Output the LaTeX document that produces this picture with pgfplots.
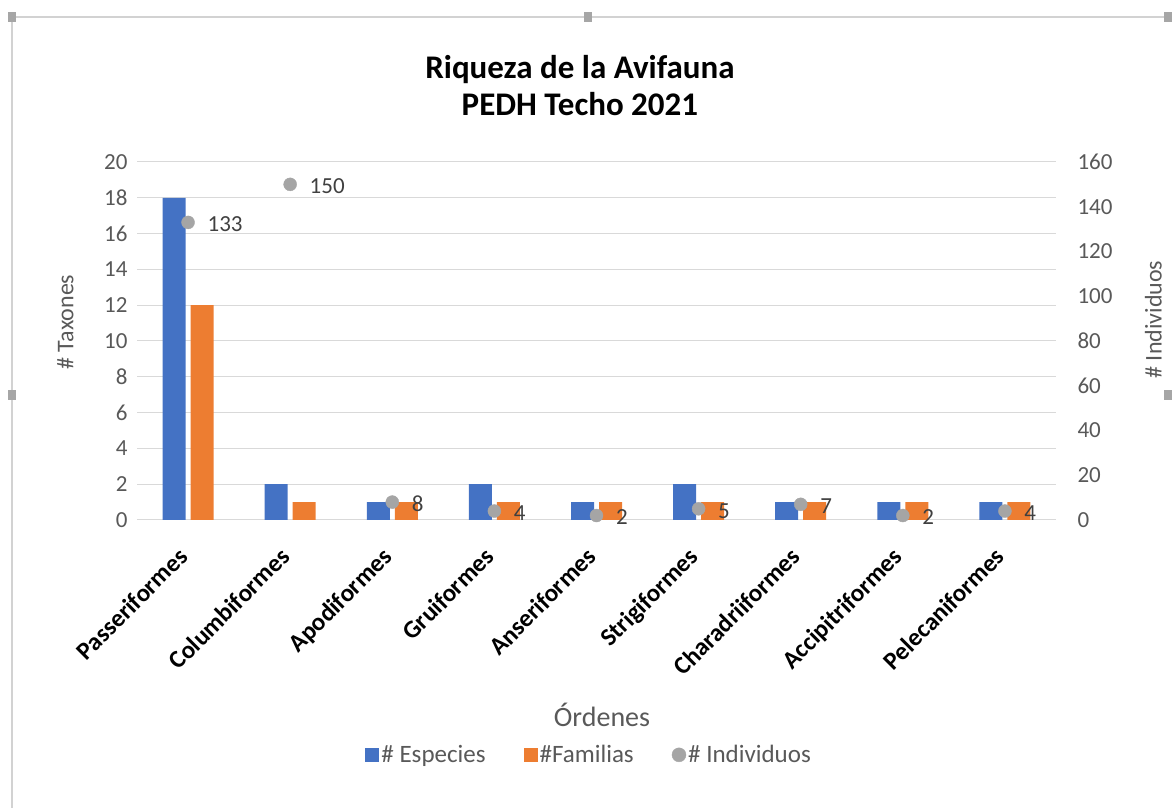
\documentclass[border=0pt]{standalone}
\usepackage{pgfplots}
\pgfplotsset{compat=1.18}
\usepackage{pgfplotstable}
\usepackage{fontspec}
\setmainfont{Carlito}

\definecolor{cBlue}{HTML}{4472C4}
\definecolor{cOrange}{HTML}{ED7D31}
\definecolor{cGray}{HTML}{A5A5A5}
\definecolor{cGrid}{HTML}{D9D9D9}
\definecolor{cText}{HTML}{595959}
\definecolor{cLabel}{HTML}{404040}

% idx = orden, esp = # especies, fam = # familias, ind = # individuos
\pgfplotstableread{
idx esp fam ind
0   18  12  133
1   2   1   150
2   1   1   8
3   2   1   4
4   1   1   2
5   2   1   5
6   1   1   7
7   1   1   2
8   1   1   4
}\avifauna

\newcommand\tickfont{\fontsize{23}{27}\selectfont}

\pgfplotsset{
  common/.style={
    at={(137pt,288pt)}, anchor=south west,
    scale only axis, width=919pt, height=358pt,
    xmin=-0.5, xmax=8.5,
    axis line style={draw=none},
    major tick length=0pt,
    /pgf/number format/assume math mode=true,
    tick label style={font=\tickfont, color=cText},
  },
}

\begin{document}
\begin{tikzpicture}
\path[use as bounding box] (0pt,0pt) rectangle (1173pt,808pt);
% chart frame
\draw[gray!35, line width=1.5pt] (12pt,791pt) -- (1168pt,791pt);
\draw[gray!35, line width=1.5pt] (12pt,791pt) -- (12pt,0pt);
\foreach \hx/\hy in {12/791, 588/791, 1168/791, 12/413, 1168/413}
  \fill[gray!70] (\hx pt-4pt,\hy pt-5pt) rectangle (\hx pt+4pt,\hy pt+5pt);

\begin{axis}[common,
  ymin=0, ymax=20, ytick distance=2,
  ymajorgrids, grid style={cGrid, line width=1pt},
  xtick=data,
  xticklabels={Passeriformes,Columbiformes,Apodiformes,Gruiformes,Anseriformes,Strigiformes,Charadriiformes,Accipitriformes,Pelecaniformes},
  xticklabel style={rotate=45, anchor=north east, font=\fontsize{25}{28}\selectfont\bfseries, color=black, xshift=-23pt, yshift=-7pt},
  yticklabel style={anchor=east, xshift=-6pt},
  title={Riqueza de la Avifauna\\PEDH Techo 2021},
  title style={at={(axis description cs:0.482,1.196)}, anchor=center, align=center,
    font=\fontsize{33}{37}\selectfont\bfseries},
  xlabel={Órdenes},
  xlabel style={at={(axis description cs:0.506,-0.545)}, anchor=center,
    font=\fontsize{28}{32}\selectfont, color=cText},
  ylabel={\# Taxones},
  ylabel style={at={(axis description cs:-0.078,0.553)}, anchor=center, rotate=0,
    font=\fontsize{24}{28}\selectfont, color=cText},
  legend columns=3,
  legend style={at={(axis description cs:0.492,-0.656)}, anchor=center, draw=none,
    font=\fontsize{25}{29}\selectfont, text=cText,
    /tikz/every even column/.append style={column sep=36pt}},
  legend cell align=left,
]
\addplot[ybar, bar width=23pt, bar shift=-14pt, fill=cBlue, draw=none,
  legend image code/.code={\fill[cBlue] (0pt,-7pt) rectangle (14pt,7pt);}]
  table[x=idx, y=esp] {\avifauna};
\addlegendentry{\# Especies}
\addplot[ybar, bar width=23pt, bar shift=14pt, fill=cOrange, draw=none,
  legend image code/.code={\fill[cOrange] (0pt,-7pt) rectangle (14pt,7pt);}]
  table[x=idx, y=fam] {\avifauna};
\addlegendentry{\#Familias}
\addlegendimage{legend image code/.code={\fill[cGray] (7pt,0pt) circle (7pt);}}
\addlegendentry{\# Individuos}
\end{axis}

\begin{axis}[common,
  ymin=0, ymax=160, ytick distance=20,
  axis y line*=right, hide x axis,
  yticklabel style={anchor=west, xshift=18pt},
  ylabel={\# Individuos},
  ylabel style={at={(axis description cs:1.106,0.56)}, anchor=center, rotate=0,
    font=\fontsize{24}{28}\selectfont, color=cText},
]
\addplot[only marks, mark=*, mark size=6.5pt, color=cGray,
  nodes near coords,
  nodes near coords style={anchor=west, xshift=16pt, yshift=-2pt,
    font=\tickfont, color=cLabel}]
  table[x=idx, y=ind] {\avifauna};
\end{axis}
\end{tikzpicture}
\end{document}
